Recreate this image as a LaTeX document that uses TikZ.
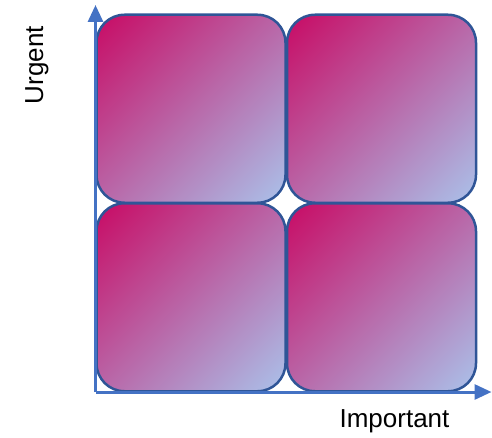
\documentclass[tikz,border=0pt]{standalone}
\usepackage{fontspec}
\setmainfont{Liberation Sans}
\usetikzlibrary{arrows.meta, shadings}
\definecolor{hotend}{RGB}{200,10,100}
\definecolor{coolend}{RGB}{170,195,235}
\definecolor{boxline}{RGB}{47,85,151}
\definecolor{axisblue}{RGB}{68,114,196}
\begin{document}
\begin{tikzpicture}[x=1pt, y=1pt,
	quad/.style={rectangle, rounded corners=28pt, draw=boxline, line width=2.5pt,
		minimum width=189pt, minimum height=188pt, inner sep=0pt,
		upper left=hotend, lower right=coolend,
		upper right=hotend!50!coolend, lower left=hotend!50!coolend},
	axisline/.style={draw=axisblue, line width=3pt, -{Triangle[length=17pt, width=15pt]}},
	axislabel/.style={font=\fontsize{26}{31}\selectfont, inner sep=0pt}]
			\useasboundingbox (0,0) rectangle (492,437);

			\node[quad] (q1) at (191,328.25) {};
			\node[quad] (q2) at (381.5,328.25) {};
			\node[quad] (q3) at (191,139.75) {};
			\node[quad] (q4) at (381.5,139.75) {};

			\coordinate (o) at (95.5,45);
			\coordinate (ytip) at (95.5,432);
			\coordinate (xtip) at (491.5,45);

			\draw[axisline] (o) -- (ytip);
			\draw[axisline] (o) -- (xtip);

			\node[axislabel, rotate=90, anchor=base] (urgent) at (43,372) {Urgent};
			\node[axislabel, anchor=base] (important) at (394.5,10) {Important};
		\end{tikzpicture}
\end{document}
